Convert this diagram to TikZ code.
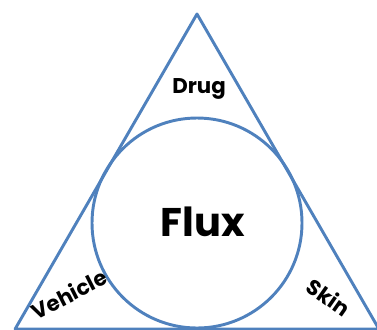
\documentclass[tikz,border=0pt]{standalone}
\usepackage{fontspec}
\setmainfont{Poppins}
\definecolor{rim}{RGB}{79,129,189}
\tikzset{label text/.style={font=\bfseries\fontsize{16}{16}\selectfont, inner sep=0pt}}
\begin{document}
\begin{tikzpicture}[x=0.75pt, y=-0.75pt, line width=2.2pt]
\useasboundingbox (0,0) rectangle (377,329);
\coordinate (top) at (197,14);
\coordinate (right) at (378.9,329);
\coordinate (left) at (15.1,329);
\draw[rim, line join=round] (top) -- (right) -- (left) -- cycle;
\draw[rim] (197,223) circle (105);
\node[label text] (drug) at (199,89) {Drug};
\node[font=\bfseries\fontsize{30}{30}\selectfont, inner sep=0pt] (flux) at (203,222) {Flux};
\node[label text, rotate=27] (vehicle) at (69,294) {Vehicle};
\node[label text, rotate=-35] (skin) at (329,297) {Skin};
\end{tikzpicture}
\end{document}
